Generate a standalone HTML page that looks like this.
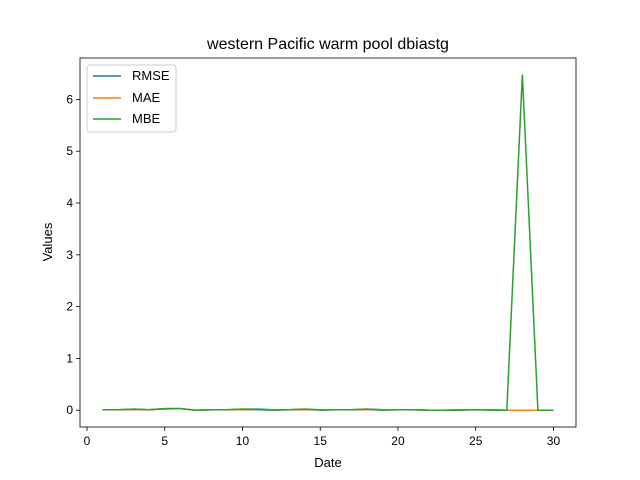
<!DOCTYPE html>
<html><head><meta charset="utf-8"><style>body{margin:0;background:#fff}svg{display:block;font-family:"Liberation Sans","DejaVu Sans",sans-serif}</style></head>
<body>
<svg id="chart" width="640" height="480">
<rect width="640" height="480" fill="#fff"/>
<text x="328" y="49" font-size="16" text-anchor="middle">western Pacific warm pool dbiastg</text>
<g id="plot"></g>
<rect x="80" y="58" width="496" height="369" fill="none" stroke="#000" stroke-width="0.8"/>
<text x="328" y="467" font-size="13" text-anchor="middle">Date</text>
<text x="52" y="242" font-size="13" text-anchor="middle" transform="rotate(-90 52 242)">Values</text>
<g>
<rect x="87" y="65" width="89" height="67" rx="3" fill="#fff" fill-opacity="0.8" stroke="#ccc"/>
<line x1="93" y1="76" x2="121" y2="76" stroke="#1f77b4" stroke-width="1.5"/>
<text x="132" y="80" font-size="13">RMSE</text>
<line x1="93" y1="98" x2="121" y2="98" stroke="#ff7f0e" stroke-width="1.5"/>
<text x="132" y="102" font-size="13">MAE</text>
<line x1="93" y1="119" x2="121" y2="119" stroke="#2ca02c" stroke-width="1.5"/>
<text x="132" y="123" font-size="13">MBE</text>
</g>
</svg>
<script>
const dates=[1,2,3,4,5,6,7,8,9,10,11,12,13,14,15,16,17,18,19,20,21,22,23,24,25,26,27,28,29,30];
const rmse=[0.01,0.01,0.02,0.01,0.03,0.03,0.0,0.01,0.01,0.02,0.02,0.01,0.01,0.02,0.01,0.01,0.01,0.02,0.01,0.01,0.01,0.0,0.0,0.01,0.01,0.01,0.0,0.0,0.0,0.0];
const mae=[0.01,0.01,0.01,0.01,0.02,0.03,0.0,0.01,0.01,0.01,0.01,0.01,0.01,0.01,0.01,0.01,0.01,0.01,0.01,0.01,0.01,0.0,0.0,0.01,0.01,0.01,0.0,0.0,0.0,0.0];
const mbe=[0.01,0.01,0.02,0.01,0.03,0.03,0.0,0.01,0.01,0.02,0.01,0.0,0.01,0.02,0.0,0.01,0.01,0.02,0.0,0.01,0.01,0.0,0.0,0.0,0.01,0.0,0.0,6.48,0.0,0.0];
const xTicks=[0,5,10,15,20,25,30];
const yTicks=[0,1,2,3,4,5,6];
const L=80,R=576,T=58,B=427,xmin=-0.45,xmax=31.45,ymin=-0.324,ymax=6.80;
const X=v=>L+(v-xmin)/(xmax-xmin)*(R-L);
const Y=v=>B-(v-ymin)/(ymax-ymin)*(B-T);
const g=document.getElementById('plot');const NS='http://www.w3.org/2000/svg';
function mk(t,a){const e=document.createElementNS(NS,t);for(const k in a)e.setAttribute(k,a[k]);g.appendChild(e);return e;}
xTicks.forEach(t=>{const l=mk('line',{x1:X(t),x2:X(t),y1:B,y2:B+4,stroke:'#000','stroke-width':0.8});


const s=mk('text',{x:X(t),y:B+18,'font-size':12,'text-anchor':'middle'});s.textContent=t;

});
yTicks.forEach(t=>{const l=mk('line',{x1:L-4,x2:L,y1:Y(t),y2:Y(t),stroke:'#000','stroke-width':0.8});


const s=mk('text',{x:L-7,y:Y(t)+4,'font-size':12,'text-anchor':'end'});s.textContent=t;

});
[[rmse,'#1f77b4','rmse-line'],[mae,'#ff7f0e','mae-line'],[mbe,'#2ca02c','mbe-line']].forEach(([d,c,n])=>{
const p=mk('polyline',{points:d.map((v,i)=>X(dates[i])+','+Y(v)).join(' '),fill:'none',stroke:c,'stroke-width':1.5});

});
</script>
</body></html>
